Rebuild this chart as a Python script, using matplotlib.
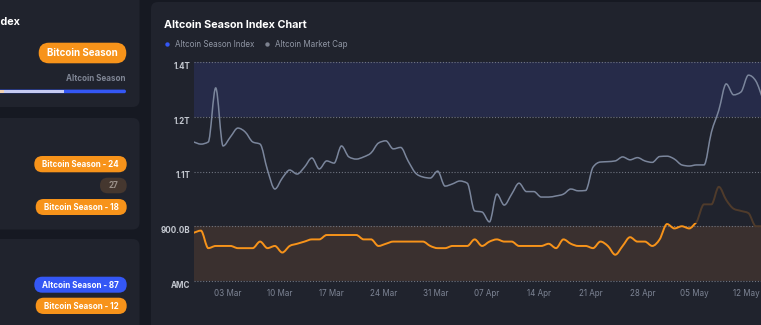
import numpy as np
import pandas as pd
import matplotlib
matplotlib.use("Agg")
import matplotlib.pyplot as plt
import matplotlib.dates as mdates
from matplotlib.patches import FancyBboxPatch, Rectangle, Circle, PathPatch
from matplotlib.path import Path
from matplotlib.transforms import blended_transform_factory

plt.rcParams['font.family'] = ['Inter', 'DejaVu Sans']

# one reading per day (08:00)
dates = pd.date_range("2025-02-26 08:00", periods=78, freq="D")

# Altcoin Season Index (0-100)
season_index = [22, 23, 15, 16, 16, 16, 15, 15, 15, 18, 15, 16, 13, 16, 17, 18,
                19, 19, 21, 21, 21, 21, 21, 19, 19, 16, 17, 18, 18, 18, 18, 18,
                16, 15, 15, 16, 16, 16, 19, 16, 18, 19, 18, 18, 16, 16, 16, 16,
                17, 15, 19, 17, 16, 16, 15, 18, 16, 12, 16, 20, 18, 18, 16, 19,
                26, 24, 25, 24, 27, 35, 35, 43, 37, 33, 32, 31, 25, 25]

# Altcoin market cap, billions USD
market_cap_b = [1131, 1125, 1131, 1279, 1120, 1145, 1169, 1158, 1131, 1125, 1054,
                1002, 1032, 1054, 1043, 1062, 1087, 1057, 1079, 1073, 1120, 1090,
                1084, 1090, 1101, 1128, 1134, 1112, 1116, 1079, 1046, 1035, 1032,
                1051, 1010, 1016, 1024, 1018, 942, 939, 912, 988, 958, 988, 1018,
                995, 995, 980, 980, 983, 988, 1002, 997, 998, 1062, 1076, 1077,
                1079, 1090, 1082, 1088, 1079, 1075, 1091, 1092, 1084, 1068, 1065,
                1068, 1068, 1158, 1218, 1290, 1260, 1268, 1314, 1298, 1246]

cap_ticks = [750, 900, 1050, 1200, 1350]
cap_labels = ["AMC", "900.0B", "1.1T", "1.2T", "1.4T"]
index_ticks = [0, 25, 50, 75, 100]
week_ticks = pd.date_range("2025-03-03", "2025-05-12", freq="7D")

split = 68  # index line turns dim after this reading

PAGE = "#161922"
CARD = "#20232d"
ORANGE = "#f7931a"
DIM_ORANGE = "#4f3b2b"
BLUE = "#3457f5"
GREY_LINE = "#7b869c"


def monotone_path(x, y):
    # smooth monotone cubic drawn as bezier segments through the readings
    x = np.asarray(x, float)
    y = np.asarray(y, float)
    h = np.diff(x)
    s = np.diff(y) / h
    m = np.empty_like(y)
    m[0], m[-1] = s[0], s[-1]
    for i in range(1, len(y) - 1):
        if s[i - 1] * s[i] <= 0:
            m[i] = 0
        else:
            p = (s[i - 1] * h[i] + s[i] * h[i - 1]) / (h[i - 1] + h[i])
            m[i] = np.sign(s[i]) * min(abs(s[i - 1]), abs(s[i]), 0.5 * abs(p)) * 2
    verts = [(x[0], y[0])]
    codes = [Path.MOVETO]
    for i in range(len(x) - 1):
        d = h[i] / 3
        verts += [(x[i] + d, y[i] + m[i] * d), (x[i + 1] - d, y[i + 1] - m[i + 1] * d),
                  (x[i + 1], y[i + 1])]
        codes += [Path.CURVE4] * 3
    return Path(verts, codes)


fig = plt.figure(figsize=(7.61, 3.25), dpi=100, facecolor=PAGE)

# background layer in pixel units for the dashboard cards
bg = fig.add_axes([0, 0, 1, 1])
bg.set_xlim(0, 761)
bg.set_ylim(325, 0)
bg.axis("off")


def card(x0, y0, x1, y1):
    bg.add_patch(FancyBboxPatch((x0, y0), x1 - x0, y1 - y0,
                                boxstyle="round,pad=0,rounding_size=7",
                                fc=CARD, ec="none"))


def pill(x0, x1, y0, y1, color, text, tcolor="white", size=5.8):
    h = y1 - y0
    bg.add_patch(FancyBboxPatch((x0, y0), x1 - x0, h,
                                boxstyle="round,pad=0,rounding_size=%f" % (h / 2),
                                fc=color, ec="none"))
    bg.text((x0 + x1) / 2, (y0 + y1) / 2 + 0.3, text, ha="center", va="center",
            color=tcolor, fontsize=size, fontweight="bold")


card(-20, -10, 139.5, 107)
card(-20, 118, 139.5, 229.5)
card(-20, 239, 139.5, 345)
card(151, 2, 820, 345)

# left cards (the first title is cut by the screenshot edge)
bg.text(19.5, 22, "Altcoin Season Index", ha="right", va="center",
        color="white", fontsize=7.8, fontweight="bold")
pill(38.7, 126.3, 42.7, 63.3, ORANGE, "Bitcoin Season", size=7.0)
bg.text(126, 78.5, "Altcoin Season", ha="right", va="center",
        color="#7f8594", fontsize=5.8, fontweight="bold")
bg.add_patch(FancyBboxPatch((-10, 89.6), 136, 3.6,
                            boxstyle="round,pad=0,rounding_size=1.8",
                            fc=BLUE, ec="none"))
bg.add_patch(Rectangle((4, 89.6), 60, 3.6, fc="#c6cbf2", ec="none"))
bg.add_patch(Rectangle((-10, 89.6), 14, 3.6, fc="#f2d2b0", ec="none"))

pill(34.3, 126.7, 156, 172.3, ORANGE, "Bitcoin Season - 24")
pill(100, 126.7, 177.7, 193.3, "#45372f", "27", tcolor="#9b918a")
pill(35.7, 126.7, 199, 215, ORANGE, "Bitcoin Season - 18")
pill(34.3, 126.7, 276.7, 292.7, BLUE, "Altcoin Season - 87")
pill(35.7, 126.7, 297.7, 314, ORANGE, "Bitcoin Season - 12")

# chart card header
bg.text(164, 24.8, "Altcoin Season Index Chart", ha="left", va="center",
        color="white", fontsize=7.8, fontweight="bold")
bg.add_patch(Circle((167.5, 44.5), 2.2, fc=BLUE, ec="none"))
bg.text(175, 44.8, "Altcoin Season Index", ha="left", va="center",
        color="#9096a4", fontsize=5.8)
bg.add_patch(Circle((267.5, 44.5), 2.2, fc="#7d8290", ec="none"))
bg.text(275, 44.8, "Altcoin Market Cap", ha="left", va="center",
        color="#9096a4", fontsize=5.8)

# main chart: index axis (bands, grid, index line)
ax = fig.add_axes([193.5 / 761, (325 - 281) / 325, (761 - 193.5) / 761, 219 / 325])
ax.set_facecolor("none")
for s in ax.spines.values():
    s.set_visible(False)
ax.set_ylim(0, 100)
ax.set_xlim(dates[0], dates[0] + pd.Timedelta(days=76.7))
ax.axhspan(75, 100, color="#262b49", lw=0, zorder=0)
ax.axhspan(0, 25, color="#3a302f", lw=0, zorder=0)
ax.set_yticks(index_ticks)
ax.tick_params(axis="y", labelleft=False, length=0)
ax.grid(axis="y", color="#6f7480", linestyle=(0, (1, 1.6)), linewidth=0.8)
for gl in ax.yaxis.get_gridlines():
    gl.set_clip_on(False)

xnum = mdates.date2num(dates)
dim_path = monotone_path(xnum[split - 1:], season_index[split - 1:])
ax.add_patch(PathPatch(dim_path, fill=False, ec=DIM_ORANGE, lw=1.4, zorder=3))
idx_path = monotone_path(xnum[:split + 1], season_index[:split + 1])
orange_line = PathPatch(idx_path, fill=False, ec=ORANGE, lw=1.4, zorder=4)
ax.add_patch(orange_line)
clip = Rectangle((0, -5), 1, 31.3,
                 transform=blended_transform_factory(ax.transAxes, ax.transData))
orange_line.set_clip_path(clip)

ax.set_xticks(week_ticks)
ax.xaxis.set_major_formatter(mdates.DateFormatter("%d %b"))
ax.tick_params(axis="x", length=0, pad=6, labelsize=5.8, labelcolor="#7d8494")

# market cap on a twin axis, labels on the left
ax2 = ax.twinx()
for s in ax2.spines.values():
    s.set_visible(False)
ax2.set_ylim(750, 1350)
ax2.yaxis.tick_left()
ax2.set_yticks(cap_ticks, cap_labels, va="top", fontweight="bold")
ax2.tick_params(axis="y", length=0, pad=2.5, labelsize=5.8, labelcolor="#c3c7cf")
cap_path = monotone_path(xnum, market_cap_b)
ax2.add_patch(PathPatch(cap_path, fill=False, ec=GREY_LINE, lw=1.1))

fig.savefig("out.png", dpi=100, facecolor=PAGE)
